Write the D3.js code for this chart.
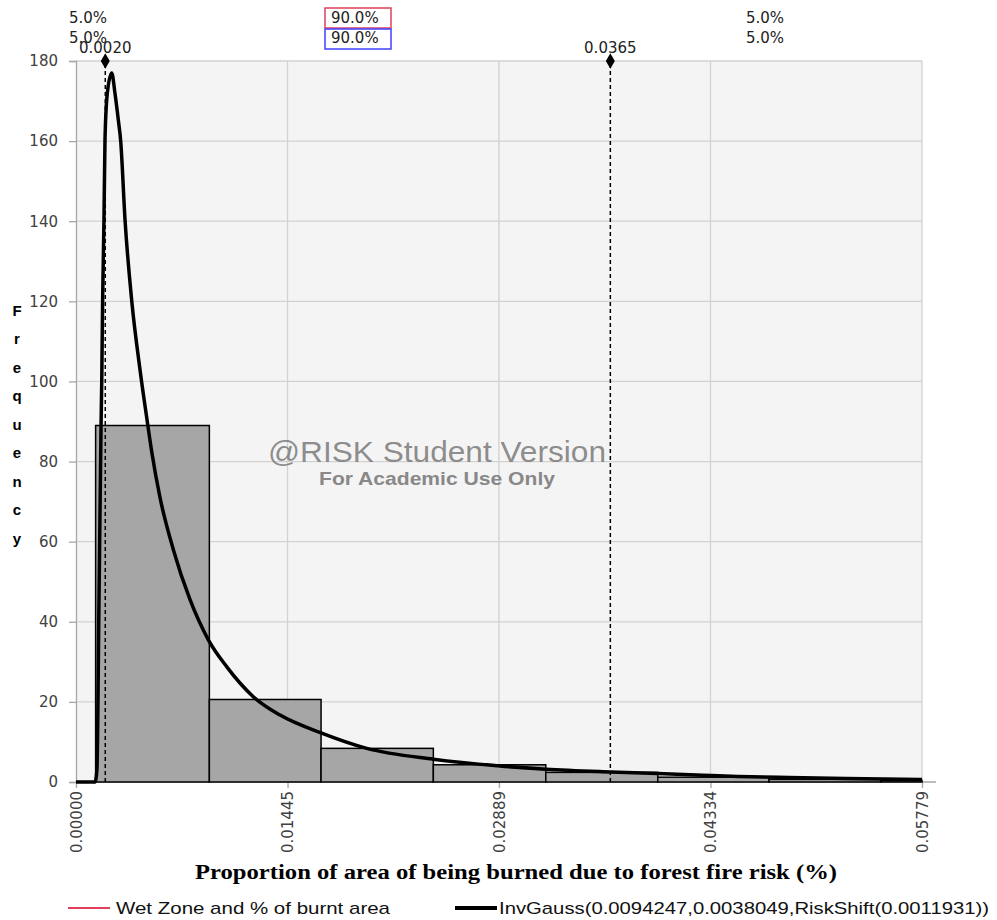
<!DOCTYPE html>
<html>
<head>
<meta charset="utf-8">
<script src="https://cdnjs.cloudflare.com/ajax/libs/d3/7.8.5/d3.min.js"></script>
<style>
	body { margin: 0; background: #fff; }
	text { font-family: "DejaVu Sans", Verdana, sans-serif; }
</style>
</head>
<body>
<svg id="chart" width="997" height="920"></svg>
<script>

// histogram bins (density)
var binEdges = [0.00134, 0.00911, 0.01674, 0.02441, 0.03209, 0.03974, 0.04734, 0.05499, 0.06264];
var binHeights = [89.0, 20.6, 8.4, 4.3, 2.4, 1.2, 0.65, 0.4];

// fitted InvGauss curve
var curveX = [0, 0.00130, 0.00143, 0.00157, 0.00171, 0.00176, 0.00182, 0.00191, 0.00198, 0.00214,
	0.00244, 0.00266, 0.00289, 0.00305, 0.00335, 0.00380, 0.00437, 0.00483, 0.00517, 0.00574,
	0.00665, 0.00779, 0.00904, 0.01029, 0.01211, 0.01394, 0.01678, 0.01986, 0.02441, 0.02896,
	0.03209, 0.03655, 0.03974, 0.04283, 0.04522, 0.04870, 0.05260, 0.05779];
var curveY = [0, 0, 3, 45, 88.7, 100.4, 120.4, 140.3, 160.2, 172,
	177, 172, 165.3, 160.2, 140.3, 120.4, 103, 91, 82.5, 71,
	58, 45.5, 35.5, 28.8, 21.3, 16.7, 12.2, 8.4, 5.7, 4.0,
	3.2, 2.5, 2.1, 1.7, 1.4, 1.1, 0.85, 0.6];

var xTicks = [0, 0.01445, 0.02889, 0.04334, 0.05779];
var yTicks = [0, 20, 40, 60, 80, 100, 120, 140, 160, 180];

var markerValues = [0.0020, 0.0365];
var markerLabels = ["0.0020", "0.0365"];
var pctLeft = "5.0%", pctMiddle = "90.0%", pctRight = "5.0%";

var xLabel = "Proportion of area of being burned due to forest fire risk (%)";
var yLabel = "Frequency";
var legendNames = ["Wet Zone and % of burnt area", "InvGauss(0.0094247,0.0038049,RiskShift(0.0011931))"];

var svg = d3.select("#chart");

var x = d3.scaleLinear()
	.domain([0, 0.05779])
	.range([76, 922]);

var y = d3.scaleLinear()
	.domain([0, 180])
	.range([782, 61]);

function drawGrid() {

	svg.append("rect")
		.attr("x", x.range()[0])
		.attr("y", y.range()[1])
		.attr("width", x.range()[1] - x.range()[0])
		.attr("height", y.range()[0] - y.range()[1])
		.attr("fill", "#f4f4f4");

	svg.append("g").selectAll("line")
		.data(yTicks.slice(1))
		.enter().append("line")
		.attr("x1", x.range()[0])
		.attr("x2", x.range()[1])
		.attr("y1", function(d) { return y(d); })
		.attr("y2", function(d) { return y(d); })
		.attr("stroke", "#d2d2d2")
		.attr("stroke-width", 1.3);

	svg.append("g").selectAll("line")
		.data(xTicks.slice(1))
		.enter().append("line")
		.attr("x1", function(d) { return x(d); })
		.attr("x2", function(d) { return x(d); })
		.attr("y1", y.range()[0])
		.attr("y2", y.range()[1])
		.attr("stroke", "#d2d2d2")
		.attr("stroke-width", 1.3);
}

function drawAxes() {

	var yAxis = d3.axisLeft(y)
		.tickValues(yTicks)
		.tickSize(7)
		.tickPadding(11);

	var gy = svg.append("g")
		.attr("transform", "translate(" + x.range()[0] + ",0)")
		.call(yAxis);
	gy.select(".domain").attr("stroke", "#a6a6a6").attr("stroke-width", 1.3);
	gy.selectAll(".tick line").attr("stroke", "#a6a6a6").attr("stroke-width", 1.3);
	gy.selectAll(".tick text")
		.attr("font-size", 15)
		.attr("fill", "#404040")
		.style("font-family", "'DejaVu Sans', Verdana, sans-serif");

	var xAxis = d3.axisBottom(x)
		.tickValues(xTicks)
		.tickSize(6)
		.tickSizeOuter(0)
		.tickFormat(d3.format(".5f"));

	var gx = svg.append("g")
		.attr("transform", "translate(0," + y.range()[0] + ")")
		.call(xAxis);
	gx.select(".domain")
		.attr("d", "M" + x.range()[0] + ",0H" + (x.range()[1] + 14))
		.attr("stroke", "#a6a6a6").attr("stroke-width", 1.3);
	gx.selectAll(".tick line").attr("stroke", "#a6a6a6").attr("stroke-width", 1.3);
	gx.selectAll(".tick text")
		.attr("transform", "rotate(-90)")
		.attr("text-anchor", "end")
		.attr("x", -9)
		.attr("y", 0)
		.attr("dy", "0.35em")
		.attr("font-size", 15)
		.attr("fill", "#404040")
		.style("font-family", "'DejaVu Sans', Verdana, sans-serif");
}

function drawBars() {

	var bins = binHeights.map(function(h, i) {
		return { x0: binEdges[i], x1: Math.min(binEdges[i + 1], x.domain()[1]), h: h };
	});

	svg.append("g").selectAll("rect")
		.data(bins)
		.enter().append("rect")
		.attr("x", function(d) { return x(d.x0); })
		.attr("width", function(d) { return x(d.x1) - x(d.x0); })
		.attr("y", function(d) { return y(d.h); })
		.attr("height", function(d) { return y(0) - y(d.h); })
		.attr("fill", "#a6a6a6")
		.attr("stroke", "#000")
		.attr("stroke-width", 1.5);
}

function drawMarkers() {

	var g = svg.append("g");

	g.selectAll("line")
		.data(markerValues)
		.enter().append("line")
		.attr("x1", function(d) { return x(d); })
		.attr("x2", function(d) { return x(d); })
		.attr("y1", y(0))
		.attr("y2", y(180))
		.attr("stroke", "#000")
		.attr("stroke-width", 1.5)
		.attr("stroke-dasharray", "4,3");

	g.selectAll("path")
		.data(markerValues)
		.enter().append("path")
		.attr("d", d3.symbol().type(d3.symbolDiamond).size(70))
		.attr("transform", function(d) { return "translate(" + x(d) + "," + y(180) + ")"; })
		.attr("fill", "#000");

	g.selectAll("text")
		.data(markerValues)
		.enter().append("text")
		.attr("x", function(d) { return x(d); })
		.attr("y", 53)
		.attr("text-anchor", "middle")
		.attr("font-size", 15)
		.attr("fill", "#222")
		.text(function(d, i) { return markerLabels[i]; });
}

function drawCurve() {

	var pts = curveX.map(function(d, i) { return [d, curveY[i]]; });

	var line = d3.line()
		.x(function(d) { return x(d[0]); })
		.y(function(d) { return y(d[1]); })
		.curve(d3.curveMonotoneX);

	svg.append("path")
		.datum(pts)
		.attr("d", line)
		.attr("fill", "none")
		.attr("stroke", "#000")
		.attr("stroke-width", 3.5)
		.attr("stroke-linejoin", "round");
}

function drawTopLabels() {

	var rows = [23, 43];
	rows.forEach(function(ty) {
		svg.append("text").attr("x", 69).attr("y", ty).attr("font-size", 15).attr("fill", "#222").text(pctLeft);
		svg.append("text").attr("x", 746).attr("y", ty).attr("font-size", 15).attr("fill", "#222").text(pctRight);
		svg.append("text").attr("x", 331).attr("y", ty).attr("font-size", 15).attr("fill", "#222").text(pctMiddle);
	});

	svg.append("rect")
		.attr("x", 325).attr("y", 8).attr("width", 66).attr("height", 20)
		.attr("fill", "none").attr("stroke", "#e0405a").attr("stroke-width", 1.5);
	svg.append("rect")
		.attr("x", 325).attr("y", 29).attr("width", 66).attr("height", 20)
		.attr("fill", "none").attr("stroke", "#4040ff").attr("stroke-width", 1.5);
}

function drawWatermark() {

	svg.append("text")
		.attr("x", 437).attr("y", 462)
		.attr("text-anchor", "middle")
		.attr("font-size", 29)
		.attr("fill", "#7f7f7f")
		.attr("fill-opacity", 0.9)
		.attr("textLength", 338)
		.attr("lengthAdjust", "spacingAndGlyphs")
		.style("font-family", "'Liberation Sans', Arial, sans-serif")
		.text("@RISK Student Version");

	svg.append("text")
		.attr("x", 437).attr("y", 485)
		.attr("text-anchor", "middle")
		.attr("font-size", 19)
		.attr("font-weight", "bold")
		.attr("fill", "#888")
		.attr("textLength", 236)
		.attr("lengthAdjust", "spacingAndGlyphs")
		.style("font-family", "'Liberation Sans', Arial, sans-serif")
		.text("For Academic Use Only");
}

function drawLabels() {

	svg.append("text")
		.attr("x", 516).attr("y", 879)
		.attr("text-anchor", "middle")
		.attr("font-size", 20)
		.attr("font-weight", "bold")
		.attr("textLength", 642)
		.attr("lengthAdjust", "spacingAndGlyphs")
		.style("font-family", "'Liberation Serif', 'Times New Roman', serif")
		.text(xLabel);

	svg.append("g").selectAll("text")
		.data(yLabel.split(""))
		.enter().append("text")
		.attr("x", 17)
		.attr("y", function(d, i) { return 316 + i * 28.45; })
		.attr("text-anchor", "middle")
		.attr("font-size", 15)
		.attr("font-weight", "bold")
		.style("font-family", "'Liberation Sans', Arial, sans-serif")
		.text(function(d) { return d; });
}

function drawLegend() {

	var items = [
		{ name: legendNames[0], color: "#e0405a", width: 2, x1: 68, x2: 110, tx: 116, len: 274 },
		{ name: legendNames[1], color: "#000", width: 4, x1: 455, x2: 497, tx: 499, len: 490 }
	];

	var g = svg.append("g");

	g.selectAll("line")
		.data(items)
		.enter().append("line")
		.attr("x1", function(d) { return d.x1; })
		.attr("x2", function(d) { return d.x2; })
		.attr("y1", 908).attr("y2", 908)
		.attr("stroke", function(d) { return d.color; })
		.attr("stroke-width", function(d) { return d.width; });

	g.selectAll("text")
		.data(items)
		.enter().append("text")
		.attr("x", function(d) { return d.tx; })
		.attr("y", 914)
		.attr("font-size", 17)
		.attr("fill", "#111")
		.attr("textLength", function(d) { return d.len; })
		.attr("lengthAdjust", "spacingAndGlyphs")
		.style("font-family", "'Liberation Sans Narrow', 'Liberation Sans', Arial, sans-serif")
		.text(function(d) { return d.name; });
}

drawGrid();
drawAxes();
drawBars();
drawMarkers();
drawWatermark();
drawCurve();
drawTopLabels();
drawLabels();
drawLegend();

</script>
</body>
</html>
